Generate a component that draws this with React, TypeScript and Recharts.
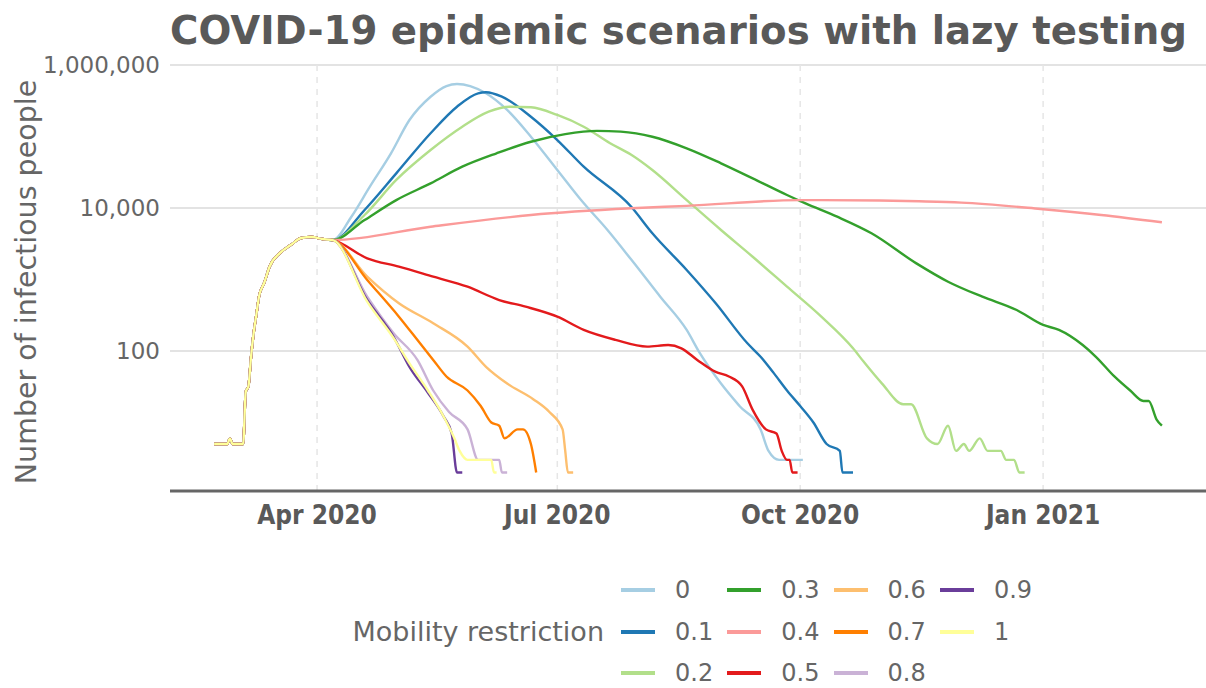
import { LineChart, Line, XAxis, YAxis, ReferenceLine } from "recharts";

type Pt = [string, number];

// shared start of every scenario (until mobility restriction kicks in)
const COMMON: Pt[] = [
  ["2020-02-22", 5], ["2020-02-27", 5], ["2020-02-28", 6], ["2020-02-29", 5],
  ["2020-03-04", 5], ["2020-03-05", 27], ["2020-03-06", 32], ["2020-03-07", 83],
  ["2020-03-08", 180], ["2020-03-09", 320], ["2020-03-10", 575], ["2020-03-12", 900],
  ["2020-03-14", 1510], ["2020-03-18", 2350], ["2020-03-22", 3030], ["2020-03-26", 3800],
  ["2020-03-30", 3930], ["2020-04-03", 3680], ["2020-04-07", 3560],
];

const R00: Pt[] = [
  ["2020-04-14", 7550], ["2020-04-21", 19900], ["2020-04-29", 58200], ["2020-05-06", 170000],
  ["2020-05-14", 360000], ["2020-05-20", 508000], ["2020-05-24", 542000], ["2020-05-29", 508000],
  ["2020-06-04", 402000], ["2020-06-12", 235000], ["2020-06-21", 99300], ["2020-07-01", 34000],
  ["2020-07-10", 12900], ["2020-07-20", 4920], ["2020-07-29", 1900], ["2020-08-09", 574],
  ["2020-08-19", 197], ["2020-08-24", 93], ["2020-09-01", 35], ["2020-09-08", 17],
  ["2020-09-16", 8], ["2020-09-19", 4], ["2020-09-23", 3], ["2020-10-02", 3],
];

const R01: Pt[] = [
  ["2020-04-19", 9380], ["2020-05-01", 30500], ["2020-05-14", 111000], ["2020-05-24", 261000],
  ["2020-06-01", 402000], ["2020-06-04", 415000], ["2020-06-10", 360000], ["2020-06-21", 189000],
  ["2020-07-01", 89300], ["2020-07-11", 37800], ["2020-07-29", 10400],
  ["2020-08-06", 4430], ["2020-08-19", 1360], ["2020-08-30", 465], ["2020-09-11", 128],
  ["2020-09-16", 83], ["2020-09-21", 49], ["2020-09-26", 28], ["2020-10-01", 17],
  ["2020-10-06", 10], ["2020-10-11", 5], ["2020-10-16", 4], ["2020-10-17", 2], ["2020-10-21", 2],
];

const R02: Pt[] = [
  ["2020-04-19", 7980], ["2020-05-01", 24700], ["2020-05-14", 64700], ["2020-05-26", 137000],
  ["2020-06-05", 222000], ["2020-06-13", 261000], ["2020-06-21", 256000], ["2020-07-01", 200000],
  ["2020-07-11", 137000], ["2020-07-21", 80400], ["2020-07-29", 55500], ["2020-08-06", 34000],
  ["2020-08-19", 12900], ["2020-09-01", 4920], ["2020-09-13", 2080], ["2020-09-26", 793],
  ["2020-10-09", 302], ["2020-10-21", 109], ["2020-10-25", 71], ["2020-11-01", 35],
  ["2020-11-09", 18], ["2020-11-12", 18], ["2020-11-18", 6], ["2020-11-22", 5],
  ["2020-11-26", 9], ["2020-11-29", 4], ["2020-12-02", 5], ["2020-12-04", 4],
  ["2020-12-08", 6], ["2020-12-11", 4], ["2020-12-16", 4], ["2020-12-18", 3],
  ["2020-12-21", 3], ["2020-12-23", 2], ["2020-12-25", 2],
];

const R03: Pt[] = [
  ["2020-04-19", 6790], ["2020-05-01", 12900], ["2020-05-14", 22100], ["2020-05-26", 37800],
  ["2020-06-08", 58200], ["2020-06-21", 84500], ["2020-07-04", 108000], ["2020-07-16", 120000],
  ["2020-07-25", 117000], ["2020-08-06", 99300], ["2020-08-19", 68400], ["2020-09-01", 42200],
  ["2020-09-13", 26000], ["2020-09-26", 15200], ["2020-10-03", 11600], ["2020-10-15", 7550],
  ["2020-10-28", 4430], ["2020-11-14", 1680], ["2020-11-26", 931], ["2020-12-09", 574],
  ["2020-12-22", 374], ["2021-01-01", 231], ["2021-01-07", 197], ["2021-01-16", 121],
  ["2021-01-21", 83], ["2021-01-28", 44], ["2021-02-03", 28], ["2021-02-08", 20],
  ["2021-02-10", 20], ["2021-02-13", 11], ["2021-02-15", 9],
];

const R04: Pt[] = [
  ["2020-05-14", 5470], ["2020-06-21", 7980], ["2020-07-29", 9900], ["2020-08-19", 10700],
  ["2020-10-01", 12900], ["2020-10-31", 12700], ["2020-11-15", 12400], ["2020-12-01", 11900],
  ["2020-12-31", 9700], ["2021-01-23", 7980], ["2021-02-15", 6300],
];

const R05: Pt[] = [
  ["2020-04-20", 1980], ["2020-05-02", 1510], ["2020-05-15", 1095], ["2020-05-28", 792],
  ["2020-06-09", 516], ["2020-06-19", 417], ["2020-07-01", 302], ["2020-07-11", 197],
  ["2020-07-23", 143], ["2020-08-04", 115], ["2020-08-12", 121], ["2020-08-17", 109],
  ["2020-08-23", 75], ["2020-08-30", 51], ["2020-09-04", 44], ["2020-09-09", 32],
  ["2020-09-13", 15], ["2020-09-18", 8], ["2020-09-22", 7], ["2020-09-24", 4],
  ["2020-09-26", 3], ["2020-09-27", 3], ["2020-09-28", 2], ["2020-09-30", 2],
];

const R06: Pt[] = [
  ["2020-04-20", 1095], ["2020-05-02", 465], ["2020-05-15", 244], ["2020-05-28", 115],
  ["2020-06-04", 60], ["2020-06-12", 35], ["2020-06-22", 21], ["2020-06-28", 14],
  ["2020-07-03", 8], ["2020-07-04", 4], ["2020-07-05", 2], ["2020-07-07", 2],
];

const R07: Pt[] = [
  ["2020-04-20", 984], ["2020-05-02", 302], ["2020-05-10", 128], ["2020-05-15", 75],
  ["2020-05-20", 44], ["2020-05-28", 28], ["2020-06-02", 17], ["2020-06-06", 10],
  ["2020-06-09", 9], ["2020-06-11", 6], ["2020-06-16", 8], ["2020-06-18", 8],
  ["2020-06-21", 5], ["2020-06-23", 2],
];

const R08: Pt[] = [
  ["2020-04-20", 574], ["2020-04-30", 177], ["2020-05-09", 75], ["2020-05-15", 28],
  ["2020-05-21", 14], ["2020-05-28", 8], ["2020-06-01", 3], ["2020-06-09", 3],
  ["2020-06-10", 2], ["2020-06-12", 2],
];

const R09: Pt[] = [
  ["2020-04-20", 516], ["2020-04-30", 158], ["2020-05-06", 60], ["2020-05-13", 26],
  ["2020-05-19", 12], ["2020-05-22", 7], ["2020-05-24", 2], ["2020-05-26", 2],
];

const R10: Pt[] = [
  ["2020-04-20", 489], ["2020-04-30", 151], ["2020-05-06", 67], ["2020-05-13", 28],
  ["2020-05-18", 14], ["2020-05-23", 6], ["2020-05-25", 4], ["2020-05-28", 3],
  ["2020-06-06", 3], ["2020-06-07", 2], ["2020-06-08", 2],
];

const RESTRICTIONS = ["0", "0.1", "0.2", "0.3", "0.4", "0.5", "0.6", "0.7", "0.8", "0.9", "1"];
const TAILS = [R00, R01, R02, R03, R04, R05, R06, R07, R08, R09, R10];
const COLORS = [
  "#a6cee3", "#1f78b4", "#b2df8a", "#33a02c", "#fb9a99", "#e31a1c",
  "#fdbf6f", "#ff7f00", "#cab2d6", "#6a3d9a", "#ffff99",
];

const X_TICK_DATES = ["2020-04-01", "2020-07-01", "2020-10-01", "2021-01-01"];
const X_TICK_LABELS = ["Apr 2020", "Jul 2020", "Oct 2020", "Jan 2021"];
const Y_TICKS = [100, 10000, 1000000];

const dayOf = (s: string) => (Date.parse(s) - Date.parse("2020-01-01")) / 86400000;

const series = TAILS.map((tail, i) => ({
  name: RESTRICTIONS[i],
  color: COLORS[i],
  data: [...COMMON, ...tail].map(([date, v]) => ({ d: dayOf(date), v })),
}));

const xTicks = X_TICK_DATES.map(dayOf);

const GREY = "#666666";

const App = () => {
  return (
    <div style={{ position: "absolute", left: 0, top: 0, width: 1206, height: 688, background: "#fff", fontFamily: "'DejaVu Sans', sans-serif" }}>
      <div style={{ position: "absolute", left: 170, top: 11, fontSize: 38.7, lineHeight: "39px", fontWeight: "bold", color: "#595959", whiteSpace: "nowrap" }}>
        COVID-19 epidemic scenarios with lazy testing
      </div>
      <div
        style={{
          position: "absolute", left: 26, top: 282, fontSize: 28.5, color: GREY, whiteSpace: "nowrap",
          transform: "translate(-50%, -50%) rotate(-90deg)",
        }}
      >
        Number of infectious people
      </div>

      <div style={{ position: "absolute", left: 0, top: 0 }}>
        <LineChart width={1206} height={560} margin={{ top: 60, right: 0, bottom: 29, left: 0 }}>
          <XAxis
            type="number"
            dataKey="d"
            domain={[35.3, 427.7]}
            allowDataOverflow
            ticks={xTicks}
            tickFormatter={(v: number) => X_TICK_LABELS[xTicks.indexOf(v)] ?? ""}
            height={40}
            axisLine={{ stroke: GREY, strokeWidth: 3 }}
            tickLine={false}
            tickMargin={9}
            tick={{ fontSize: 26, fontWeight: "bold", fill: "#595959", fontFamily: "'DejaVu Sans Condensed', 'DejaVu Sans'" }}
          />
          <YAxis
            type="number"
            scale="log"
            domain={[1.1, 1175000]}
            allowDataOverflow
            ticks={Y_TICKS}
            width={170}
            axisLine={false}
            tickLine={false}
            tickMargin={4}
            tick={{ fontSize: 23, fill: GREY, fontFamily: "'DejaVu Sans'" }}
            tickFormatter={(v: number) => v.toLocaleString("en-US")}
          />
          {Y_TICKS.map((t) => (
            <ReferenceLine key={`h${t}`} y={t} stroke="#e3e3e3" strokeWidth={2} />
          ))}
          {xTicks.map((t) => (
            <ReferenceLine key={`v${t}`} x={t} stroke="#e6e6e6" strokeWidth={1.5} strokeDasharray="6 6" />
          ))}
          {series.map((s) => (
            <Line
              key={s.name}
              data={s.data}
              dataKey="v"
              name={s.name}
              type="monotone"
              stroke={s.color}
              strokeWidth={2.4}
              dot={false}
              isAnimationActive={false}
            />
          ))}
        </LineChart>
      </div>

      <div style={{ position: "absolute", right: 1206 - 604, top: 615, fontSize: 27, lineHeight: "34px", color: GREY, whiteSpace: "nowrap" }}>
        Mobility restriction
      </div>
      {series.map((s, i) => {
        const col = Math.floor(i / 3);
        const row = i % 3;
        const left = 621 + col * 106.3;
        const cy = 590 + row * 41.5;
        return (
          <div key={s.name}>
            <div style={{ position: "absolute", left, top: cy - 2, width: 34, height: 4, background: s.color }} />
            <div style={{ position: "absolute", left: left + 54, top: cy - 15, fontSize: 24, lineHeight: "30px", color: GREY }}>
              {s.name}
            </div>
          </div>
        );
      })}
    </div>
  );
};

export default App;
